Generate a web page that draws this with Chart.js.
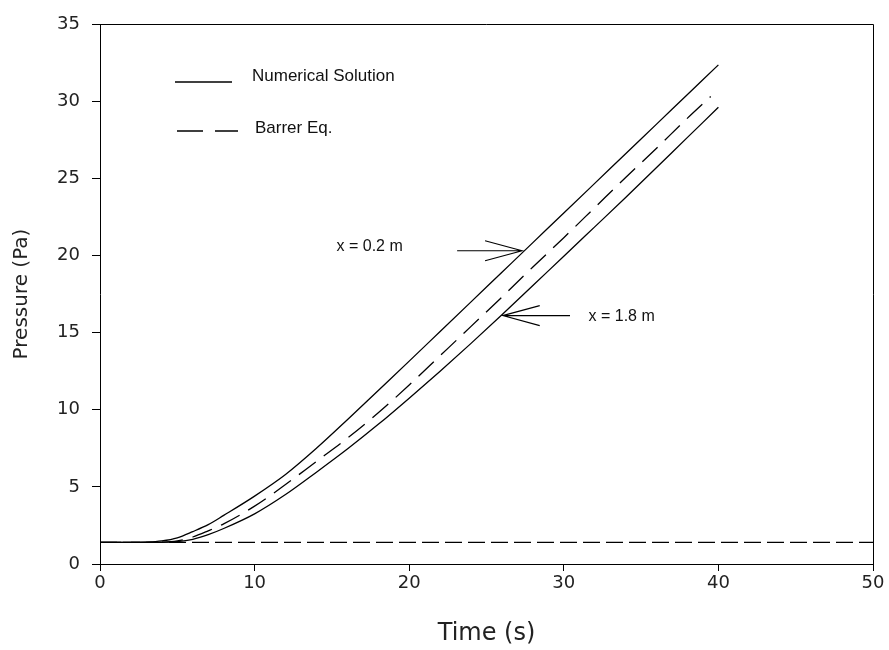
<!DOCTYPE html>
<html>
<head>
<meta charset="utf-8">
<script src="https://cdn.jsdelivr.net/npm/chart.js@4/dist/chart.umd.min.js"></script>
<style>
  html, body { margin: 0; padding: 0; background: #fff; }
  #wrap { width: 889px; height: 650px; position: relative; }
</style>
</head>
<body>
<div id="wrap"><canvas id="c" width="889" height="650"></canvas></div>
<script>
// ---- Data ----
const timeNumerical = [0, 2, 3, 4, 5, 6, 7, 8, 10, 12, 14, 16, 18, 20, 22, 24, 26, 28, 30, 32, 34, 36, 38, 40];
const pressureX02 = [1.4, 1.4, 1.42, 1.5, 1.7, 2.1, 2.55, 3.15, 4.4, 5.8, 7.5, 9.35, 11.25, 13.15, 15.07, 16.99, 18.91, 20.83, 22.75, 24.67, 26.59, 28.51, 30.43, 32.35];
const pressureX18 = [1.4, 1.4, 1.4, 1.4, 1.45, 1.6, 1.9, 2.3, 3.25, 4.5, 5.95, 7.45, 9.05, 10.75, 12.5, 14.3, 16.15, 18.05, 19.95, 21.85, 23.75, 25.7, 27.65, 29.6];
const timeBarrer = [0, 2, 4, 5, 6, 7, 8, 10, 12, 14, 16, 18, 20, 22, 24, 26, 28, 30, 32, 34, 36, 38, 39.5];
const pressureBarrer = [1.4, 1.4, 1.42, 1.5, 1.75, 2.15, 2.6, 3.75, 5.15, 6.65, 8.15, 9.8, 11.6, 13.5, 15.4, 17.3, 19.25, 21.15, 23.1, 25.05, 26.95, 28.9, 30.3];
const timeBaseline = [0, 50];
const pressureBaseline = [1.4, 1.4];

const legendLabels = ['Numerical Solution', 'Barrer Eq.'];
const xTicks = [0, 10, 20, 30, 40, 50];
const yTicks = [0, 5, 10, 15, 20, 25, 30, 35];

// annotations: label text, arrow tip (data), arrow tail x (data), text anchor (data)
const annotations = [
  { text: 'x = 0.2 m', tipX: 27.3, tipY: 20.3, tailX: 23.1, textX: 15.3, textY: 20.27 },
  { text: 'x = 1.8 m', tipX: 26.05, tipY: 16.1, tailX: 30.4, textX: 31.6, textY: 15.75 }
];

const FONT = '"DejaVu Sans", "Liberation Sans", Arial, sans-serif';
const FONT2 = '"Liberation Sans", Arial, sans-serif';

function pts(xs, ys) { return xs.map((x, i) => ({ x: x, y: ys[i] })); }

const overlay = {
  id: 'overlay',
  afterDraw(chart) {
    const { ctx, chartArea: a, scales: { x, y } } = chart;
    ctx.save();
    // frame top + right
    ctx.strokeStyle = '#000';
    ctx.lineWidth = 1;
    ctx.beginPath();
    ctx.moveTo(a.left, a.top + 0.5);
    ctx.lineTo(a.right + 0.5, a.top + 0.5);
    ctx.lineTo(a.right + 0.5, a.bottom);
    ctx.stroke();

    // legend
    ctx.lineWidth = 1.3;
    ctx.setLineDash([]);
    ctx.beginPath();
    ctx.moveTo(a.left + 75, a.top + 58);
    ctx.lineTo(a.left + 132, a.top + 58);
    ctx.stroke();
    ctx.beginPath();
    ctx.moveTo(a.left + 77, a.top + 107);
    ctx.lineTo(a.left + 103, a.top + 107);
    ctx.moveTo(a.left + 115, a.top + 107);
    ctx.lineTo(a.left + 138, a.top + 107);
    ctx.stroke();
    ctx.fillStyle = '#111';
    ctx.font = '17px ' + FONT2;
    ctx.textBaseline = 'alphabetic';
    ctx.textAlign = 'left';
    ctx.fillText(legendLabels[0], a.left + 152, a.top + 57);
    ctx.fillText(legendLabels[1], a.left + 155, a.top + 109);

    // annotations with open arrows
    ctx.font = '16px ' + FONT2;
    ctx.lineWidth = 1.1;
    annotations.forEach(an => {
      const tx = x.getPixelForValue(an.tipX), ty = y.getPixelForValue(an.tipY);
      const lx = x.getPixelForValue(an.tailX);
      const dir = lx < tx ? -1 : 1;
      ctx.beginPath();
      ctx.moveTo(lx, ty);
      ctx.lineTo(tx, ty);
      ctx.moveTo(tx + dir * 37, ty - 10);
      ctx.lineTo(tx, ty);
      ctx.lineTo(tx + dir * 37, ty + 10);
      ctx.stroke();
      ctx.fillText(an.text, x.getPixelForValue(an.textX), y.getPixelForValue(an.textY));
    });
    ctx.restore();
  }
};

new Chart(document.getElementById('c'), {
  type: 'line',
  data: {
    datasets: [
      { label: 'Numerical Solution (x = 0.2 m)', data: pts(timeNumerical, pressureX02), borderColor: '#000', borderWidth: 1.3, pointRadius: 0, cubicInterpolationMode: 'monotone', fill: false },
      { label: 'Numerical Solution (x = 1.8 m)', data: pts(timeNumerical, pressureX18), borderColor: '#000', borderWidth: 1.3, pointRadius: 0, cubicInterpolationMode: 'monotone', fill: false },
      { label: 'Barrer Eq.', data: pts(timeBarrer, pressureBarrer), borderColor: '#000', borderWidth: 1.3, borderDash: [21, 10], pointRadius: 0, cubicInterpolationMode: 'monotone', fill: false },
      { label: 'Initial pressure', data: pts(timeBaseline, pressureBaseline), borderColor: '#000', borderWidth: 1.2, borderDash: [17, 6], pointRadius: 0, fill: false }
    ]
  },
  options: {
    responsive: false,
    animation: false,
    layout: { padding: { left: 0, top: 24, right: 16, bottom: 0 } },
    plugins: { legend: { display: false }, tooltip: { enabled: false } },
    scales: {
      x: {
        type: 'linear', min: 0, max: 50,
        afterBuildTicks: s => { s.ticks = xTicks.map(v => ({ value: v })); },
        afterFit: s => { s.height = 86; },
        ticks: { color: '#222', font: { family: FONT, size: 18 }, padding: 2, maxRotation: 0 },
        grid: { display: true, drawOnChartArea: false, drawTicks: true, tickLength: 7, color: '#000' },
        border: { display: true, color: '#000', width: 1 },
        title: { display: true, text: 'Time (s)', color: '#222', font: { family: FONT, size: 24 }, padding: { top: 0, bottom: 2 } }
      },
      y: {
        type: 'linear', min: 0, max: 35,
        afterBuildTicks: s => { s.ticks = yTicks.map(v => ({ value: v })); },
        afterFit: s => { s.width = 100; },
        ticks: { color: '#222', font: { family: FONT, size: 18 }, padding: 12 },
        grid: { display: true, drawOnChartArea: false, drawTicks: true, tickLength: 8, color: '#000' },
        border: { display: true, color: '#000', width: 1 },
        title: { display: true, text: 'Pressure (Pa)', color: '#222', font: { family: FONT, size: 20 }, padding: { top: 10, bottom: 0 } }
      }
    }
  },
  plugins: [overlay]
});
</script>
</body>
</html>
